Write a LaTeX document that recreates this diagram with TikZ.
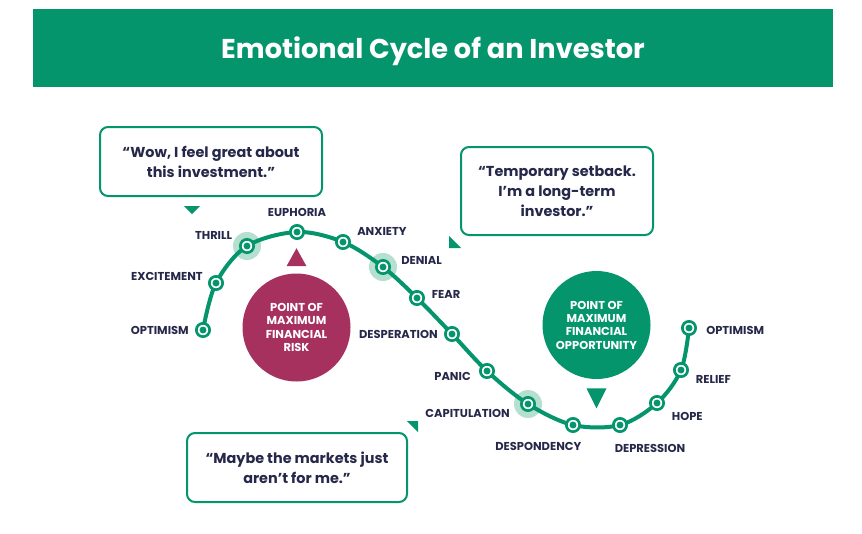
\documentclass[tikz,border=0pt]{standalone}
\usepackage{fontspec}
\setmainfont{Poppins}
\usepackage{tikz}
\usetikzlibrary{positioning, calc}
\definecolor{grn}{HTML}{04956C}
\definecolor{mint}{HTML}{B5DFCF}
\definecolor{plum}{HTML}{A6315F}
\definecolor{ink}{HTML}{26284A}

\begin{document}
\begin{tikzpicture}[x=0.75pt, y=-0.75pt,
    ring/.style={circle, draw=grn, line width=2pt, fill=white, minimum size=10pt, inner sep=0pt,
        path picture={\fill[grn] (path picture bounding box.center) circle (2.6pt);}},
    halo/.style={circle, fill=mint, minimum size=21pt, inner sep=0pt},
    curve/.style={draw=grn, line width=3pt},
    lbl/.style={font=\bfseries\fontsize{8.6}{10}\selectfont, text=ink, inner sep=0pt},
    quote/.style={rectangle, draw=grn, line width=1.5pt, rounded corners=6pt, fill=white,
        align=center, text=ink, font=\bfseries\fontsize{10.8}{15}\selectfont},
    bigdot/.style={circle, minimum size=81pt, inner sep=0pt, align=center, text=white,
        font=\bfseries\fontsize{8.6}{10}\selectfont},
    header/.style={rectangle, fill=grn, minimum width=600pt, minimum height=58pt, text=white,
        text depth=0pt, font=\bfseries\fontsize{20.4}{24}\selectfont}
]
\useasboundingbox (0,0) rectangle (862,533);
\fill[white] (0,0) rectangle (862,533);

\node[header] (title) at (433,48) {Emotional Cycle of an Investor};

\coordinate (opt1) at (203,330);
\coordinate (exc) at (216,283);
\coordinate (thr) at (247,246);
\coordinate (eup) at (297,232);
\coordinate (anx) at (343,242);
\coordinate (den) at (383,267);
\coordinate (fea) at (417,298);
\coordinate (des) at (452,334);
\coordinate (pan) at (487,371);
\coordinate (cap) at (528,404);
\coordinate (dsp) at (573,425);
\coordinate (dep) at (620,425);
\coordinate (hop) at (657,403);
\coordinate (rel) at (681,370);
\coordinate (opt2) at (689,328);

\node[halo] at (thr) {};
\node[halo] at (den) {};
\node[halo] at (cap) {};

\draw[curve] plot[smooth, tension=0.55] coordinates {(opt1) (exc) (thr) (eup) (anx) (den) (fea)
    (des) (pan) (cap) (dsp) (dep) (hop) (rel) (opt2)};

\foreach \p in {opt1, exc, thr, eup, anx, den, fea, des, pan, cap, dsp, dep, hop, rel, opt2}
    \node[ring] (r-\p) at (\p) {};

\node[lbl, left=4.5pt of r-opt1] {OPTIMISM};
\node[lbl, left=3.75pt of r-exc, yshift=5.25pt] {EXCITEMENT};
\node[lbl, left=5pt of r-thr, yshift=8pt] {THRILL};
\node[lbl, above=5.5pt of r-eup] {EUPHORIA};
\node[lbl, right=4.5pt of r-anx, yshift=8pt] {ANXIETY};
\node[lbl, right=7.5pt of r-den, yshift=5pt] {DENIAL};
\node[lbl, right=5pt of r-fea, yshift=3pt] {FEAR};
\node[lbl, left=4.5pt of r-des] {DESPERATION};
\node[lbl, left=6pt of r-pan, yshift=-3.75pt] {PANIC};
\node[lbl, left=7.5pt of r-cap, yshift=-6.75pt] {CAPITULATION};
\node[lbl, below=7pt of r-dsp, xshift=-26pt] {DESPONDENCY};
\node[lbl, below=8pt of r-dep, xshift=22.5pt] {DEPRESSION};
\node[lbl, right=5pt of r-hop, yshift=-9.75pt] {HOPE};
\node[lbl, right=5pt of r-rel, yshift=-6.75pt] {RELIEF};
\node[lbl, right=6.75pt of r-opt2, yshift=-1.5pt] {OPTIMISM};

\node[bigdot, fill=plum] (risk) at (296.5,327.5) {POINT OF\\MAXIMUM\\FINANCIAL\\RISK};
\node[bigdot, fill=grn] (opp) at (596.5,325) {POINT OF\\MAXIMUM\\FINANCIAL\\OPPORTUNITY};
\fill[plum] ([shift={(-10,-7)}]risk.north) -- ([shift={(10,-7)}]risk.north)
    -- ([shift={(0,-25)}]risk.north) -- cycle;
\fill[grn] ([shift={(-10,9)}]opp.south) -- ([shift={(10,9)}]opp.south)
    -- ([shift={(0,29)}]opp.south) -- cycle;

\node[quote, minimum width=166.5pt, minimum height=51.75pt] (wow) at (211,161.5)
    {“Wow, I feel great about\\this investment.”};
\node[quote, minimum width=144pt, minimum height=66pt] (setback) at (557,191)
    {“Temporary setback.\\I’m a long-term\\investor.”};
\node[quote, minimum width=165pt, minimum height=51.75pt] (maybe) at (297,467.5)
    {“Maybe the markets just\\aren’t for me.”};

\fill[grn] ([shift={(-27,9)}]wow.south) -- ([shift={(-11,9)}]wow.south)
    -- ([shift={(-19,17)}]wow.south) -- cycle;
\fill[grn] ([shift={(-11,0)}]setback.south west) -- ([shift={(-11,12)}]setback.south west)
    -- ([shift={(1,12)}]setback.south west) -- cycle;
\fill[grn] ([shift={(-1,-11)}]maybe.north east) -- ([shift={(10,-11)}]maybe.north east)
    -- ([shift={(10,0)}]maybe.north east) -- cycle;
\end{tikzpicture}
\end{document}
